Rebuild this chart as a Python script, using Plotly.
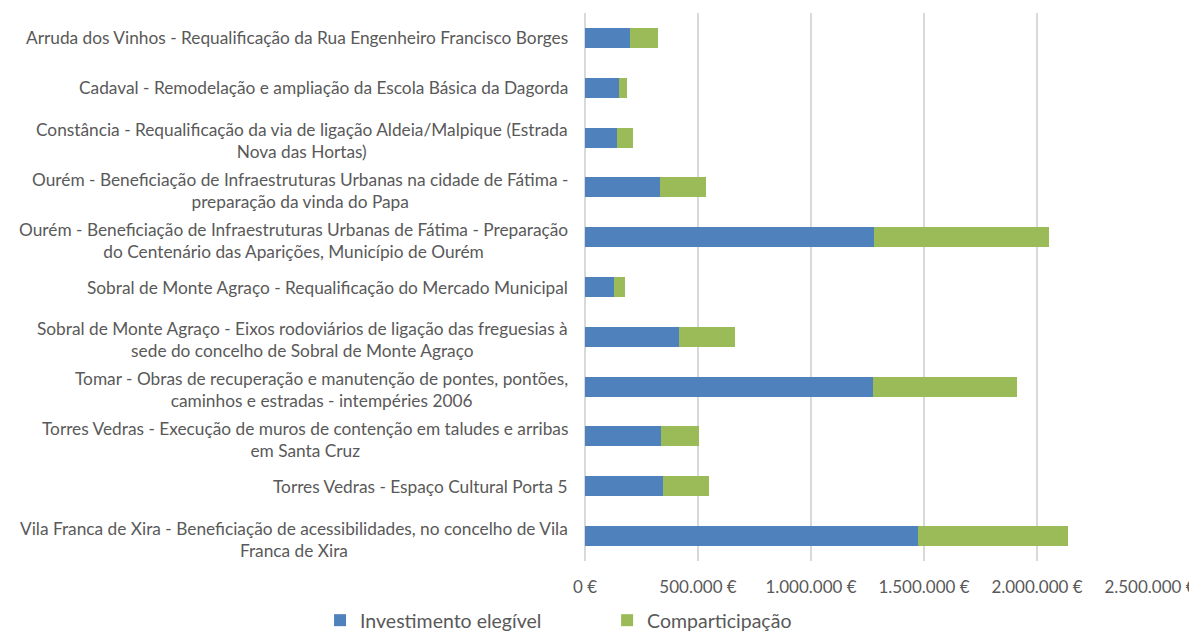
import plotly.graph_objects as go

categories = [
    "Arruda dos Vinhos - Requalificação da Rua Engenheiro Francisco Borges",
    "Cadaval - Remodelação e ampliação da Escola Básica da Dagorda",
    "Constância - Requalificação da via de ligação Aldeia/Malpique (Estrada<br>Nova das Hortas)",
    "Ourém - Beneficiação de Infraestruturas Urbanas na cidade de Fátima -<br>preparação da vinda do Papa",
    "Ourém - Beneficiação de Infraestruturas Urbanas de Fátima - Preparação<br>do Centenário das Aparições, Município de Ourém",
    "Sobral de Monte Agraço - Requalificação do Mercado Municipal",
    "Sobral de Monte Agraço - Eixos rodoviários de ligação das freguesias à<br>sede do concelho de Sobral de Monte Agraço",
    "Tomar - Obras de recuperação e manutenção de pontes, pontões,<br>caminhos e estradas - intempéries 2006",
    "Torres Vedras - Execução de muros de contenção em taludes e arribas<br>em Santa Cruz",
    "Torres Vedras - Espaço Cultural Porta 5",
    "Vila Franca de Xira - Beneficiação de acessibilidades, no concelho de Vila<br>Franca de Xira",
]
investimento = [200000, 152000, 142000, 333000, 1280000, 130000, 414000, 1276000, 336000, 343000, 1472000]
comparticipacao = [124000, 35500, 71000, 201000, 772000, 46000, 248000, 636000, 170000, 207000, 664000]
tick_vals = [0, 500000, 1000000, 1500000, 2000000, 2500000]
tick_text = ["0 €", "500.000 €", "1.000.000 €", "1.500.000 €", "2.000.000 €", "2.500.000 €"]

FONT = "Lato"
TXT = "#595959"

ids = list(range(len(categories)))

fig = go.Figure()
fig.add_trace(go.Bar(y=ids, x=investimento, orientation="h", name="Investimento elegível",
                     marker=dict(color="#4f81bd", line=dict(width=0)), legend="legend",
                     showlegend=True))
fig.add_trace(go.Bar(y=ids, x=comparticipacao, orientation="h", name="Comparticipação",
                     marker=dict(color="#9bbb59", line=dict(width=0)), legend="legend2",
                     showlegend=True))

for i, c in enumerate(categories):
    fig.add_annotation(x=0, xref="paper", y=i, yref="y", text=c, showarrow=False,
                       xanchor="right", yanchor="middle", align="center", xshift=-15,
                       yshift=(-3 if "<br>" in c else 0),
                       font=dict(family=FONT, size=17.3, color=TXT))

leg_common = dict(orientation="h", xref="container", xanchor="left",
                  yref="container", y=0.0, yanchor="bottom",
                  font=dict(family=FONT, size=19.5, color=TXT))

fig.update_layout(
    barmode="stack",
    bargap=0.6,
    showlegend=True,
    width=1197, height=632,
    margin=dict(l=577, r=55, t=5, b=79, autoexpand=False),
    plot_bgcolor="white", paper_bgcolor="white",
    font=dict(family=FONT, size=17, color=TXT),
    xaxis=dict(range=[0, 2500000], tickvals=tick_vals, ticktext=tick_text,
               showgrid=True, gridcolor="#d9d9d9", gridwidth=1.5,
               zeroline=True, zerolinecolor="#d9d9d9", zerolinewidth=1.5,
               showline=False, ticks="", automargin=False, ticklabelstandoff=14,
               tickfont=dict(family=FONT, size=17, color=TXT)),
    yaxis=dict(range=[10.5, -0.5], showticklabels=False, showgrid=False, zeroline=False,
               ticks="", tickvals=ids, automargin=False),
    legend=dict(x=0.2607, **leg_common),
    legend2=dict(x=0.5005, **leg_common),
)

fig.write_html("out.html")
